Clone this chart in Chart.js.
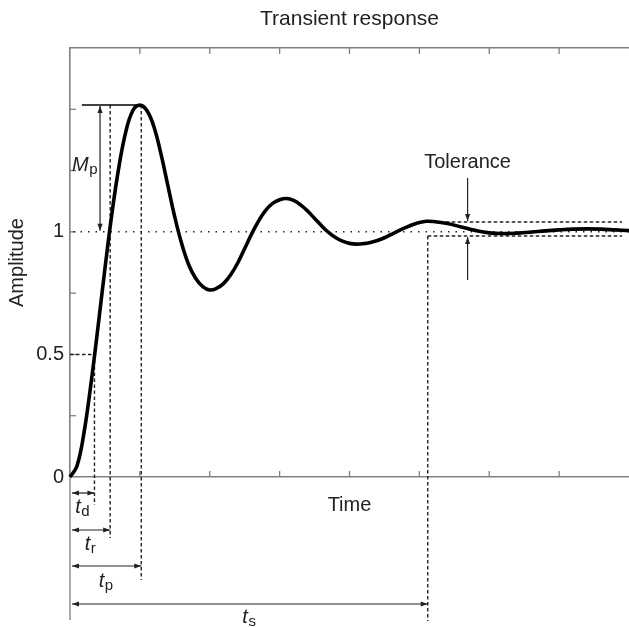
<!DOCTYPE html>
<html>
<head>
<meta charset="utf-8">
<script src="https://cdn.jsdelivr.net/npm/chart.js@4/dist/chart.umd.min.js"></script>
<style>
  html, body { margin: 0; padding: 0; background: #fff; }
  #wrap { width: 629px; height: 627px; }
</style>
</head>
<body>
<div id="wrap"><canvas id="chart" width="629" height="627"></canvas></div>
<script>
// step response
var times = [0, 0.1, 0.2, 0.3, 0.4, 0.5, 0.6, 0.7, 0.8, 0.9,
  1.0, 1.1, 1.2, 1.3, 1.4, 1.5, 1.6, 1.7, 1.8, 1.9,
  2.0, 2.1, 2.2, 2.3, 2.4, 2.5, 2.6, 2.7, 2.8, 2.9,
  3.0, 3.1, 3.2, 3.3, 3.4, 3.5, 3.6, 3.7, 3.8, 3.9,
  4.0, 4.1, 4.2, 4.3, 4.4, 4.5, 4.6, 4.7, 4.8, 4.9,
  5.0, 5.1, 5.2, 5.4, 5.6, 5.8, 6.0, 6.2, 6.4, 6.6,
  6.8, 7.0, 7.2, 7.4, 7.6, 7.8, 8.0];
var amplitude = [0, 0.045, 0.18, 0.38, 0.61, 0.85, 1.075, 1.265, 1.41, 1.495,
  1.517, 1.495, 1.43, 1.32, 1.19, 1.06, 0.95, 0.865, 0.81, 0.777,
  0.763, 0.77, 0.79, 0.825, 0.873, 0.932, 0.992, 1.045, 1.088, 1.116,
  1.131, 1.136, 1.128, 1.11, 1.085, 1.055, 1.025, 0.998, 0.977, 0.962,
  0.953, 0.95, 0.952, 0.957, 0.965, 0.976, 0.99, 1.004, 1.017, 1.029,
  1.038, 1.043, 1.042, 1.034, 1.02, 1.006, 0.996, 0.993, 0.995, 0.999,
  1.004, 1.008, 1.011, 1.012, 1.011, 1.008, 1.005];
var yTickLabels = ['0', '0.5', '1'];

// annotated quantities
var tDelay = 0.35, tRise = 0.575, tPeak = 1.02, tSettle = 5.12;
var peakValue = 1.517, finalValue = 1, halfValue = 0.5;
var tolUpper = 1.04, tolLower = 0.983;
var mpArrowTime = 0.43, mpLineStart = 0.17, tolArrowTime = 5.69;

var FONT = '"Liberation Sans", Arial, Helvetica, sans-serif';
var AXIS_GREY = '#808080';
var INK = '#222';

function seg(ctx, x1, y1, x2, y2) {
  ctx.beginPath(); ctx.moveTo(x1, y1); ctx.lineTo(x2, y2); ctx.stroke();
}
function head(ctx, x, y, a) {
  var L = 7, W = 2.6;
  ctx.beginPath();
  ctx.moveTo(x, y);
  ctx.lineTo(x - L * Math.cos(a) + W * Math.sin(a), y - L * Math.sin(a) - W * Math.cos(a));
  ctx.lineTo(x - L * Math.cos(a) - W * Math.sin(a), y - L * Math.sin(a) + W * Math.cos(a));
  ctx.closePath(); ctx.fill();
}
function arrow(ctx, x1, y1, x2, y2, both) {
  var a = Math.atan2(y2 - y1, x2 - x1);
  seg(ctx, x1, y1, x2, y2);
  head(ctx, x2, y2, a);
  if (both) head(ctx, x1, y1, a + Math.PI);
}
// italic symbol + upright subscript
function subLabel(ctx, main, sub, x, baseline, align) {
  ctx.font = 'italic 20px ' + FONT;
  var w1 = ctx.measureText(main).width;
  ctx.font = '15px ' + FONT;
  var w2 = ctx.measureText(sub).width;
  var left = x;
  if (align === 'center') left = x - (w1 + w2) / 2;
  if (align === 'right') left = x - (w1 + w2);
  ctx.textAlign = 'left';
  ctx.textBaseline = 'alphabetic';
  ctx.font = 'italic 20px ' + FONT;
  ctx.fillText(main, left, baseline);
  ctx.font = '15px ' + FONT;
  ctx.fillText(sub, left + w1 + 0.5, baseline + 3);
}

var annotations = {
  id: 'annotations',
  beforeDatasetsDraw: function (chart) {
    var ctx = chart.ctx, xs = chart.scales.x, ys = chart.scales.y, area = chart.chartArea;
    var L = area.left, B = area.bottom;
    ctx.save();

    // inward tick marks
    ctx.strokeStyle = AXIS_GREY; ctx.lineWidth = 1.3; ctx.setLineDash([]);
    xs.ticks.forEach(function (t) {
      if (t.value <= xs.min || t.value >= xs.max) return;
      var px = xs.getPixelForValue(t.value);
      seg(ctx, px, B, px, B - 6);
      seg(ctx, px, area.top, px, area.top + 6);
    });
    ys.ticks.forEach(function (t) {
      if (t.value <= ys.min || t.value >= ys.max) return;
      var py = ys.getPixelForValue(t.value);
      seg(ctx, L, py, L + 6, py);
    });

    // reference line below the axis
    ctx.strokeStyle = '#aaa'; ctx.lineWidth = 2;
    seg(ctx, L, B, L, B + 143);

    var xd = xs.getPixelForValue(tDelay), xr = xs.getPixelForValue(tRise);
    var xp = xs.getPixelForValue(tPeak), xsSet = xs.getPixelForValue(tSettle);
    var yPeak = ys.getPixelForValue(peakValue), yOne = ys.getPixelForValue(finalValue);
    var yHalf = ys.getPixelForValue(halfValue);
    var yTu = ys.getPixelForValue(tolUpper), yTl = ys.getPixelForValue(tolLower);
    var bandEnd = area.right - 7;

    // dotted final value
    ctx.strokeStyle = INK; ctx.lineWidth = 1.5; ctx.setLineDash([1.5, 6]);
    seg(ctx, L + 3, yOne, area.right, yOne);

    // dashed guides
    ctx.lineWidth = 1.4; ctx.setLineDash([3.5, 2.5]);
    seg(ctx, L, yHalf, xd, yHalf);
    seg(ctx, xd, yHalf, xd, B + 28);
    seg(ctx, xr, yPeak, xr, B + 61);
    seg(ctx, xp, yPeak, xp, B + 103);
    seg(ctx, xsSet, yTl, xsSet, B + 144);
    seg(ctx, xsSet, yTl, bandEnd, yTl);
    seg(ctx, xsSet, yTu, bandEnd, yTu);

    // peak line and Mp arrow
    ctx.setLineDash([]);
    ctx.strokeStyle = '#000'; ctx.lineWidth = 1.5;
    seg(ctx, xs.getPixelForValue(mpLineStart), yPeak, xp, yPeak);
    ctx.strokeStyle = INK; ctx.fillStyle = INK; ctx.lineWidth = 1.2;
    var xm = xs.getPixelForValue(mpArrowTime);
    arrow(ctx, xm, yPeak + 1, xm, yOne - 1, true);

    // tolerance arrows
    var xt = xs.getPixelForValue(tolArrowTime);
    arrow(ctx, xt, yTu - 44, xt, yTu - 1, false);
    arrow(ctx, xt, yTl + 44, xt, yTl + 1, false);

    // time arrows under the axis
    var rows = [[xd, 16, 36, 'd'], [xr, 53, 73, 'r'], [xp, 89, 110, 'p'], [xsSet, 127, 146, 's']];
    rows.forEach(function (r) {
      arrow(ctx, L + 2, B + r[1], r[0], B + r[1], true);
      subLabel(ctx, 't', r[3], (L + r[0]) / 2, B + r[2], 'center');
    });

    // text labels
    subLabel(ctx, 'M', 'p', xm - 3, (yPeak + yOne) / 2 + 3, 'right');
    ctx.font = '20px ' + FONT;
    ctx.textAlign = 'center'; ctx.textBaseline = 'alphabetic';
    ctx.fillText('Tolerance', xt, yTu - 54);
    ctx.restore();
  }
};

var points = times.map(function (t, i) { return { x: t, y: amplitude[i] }; });

new Chart(document.getElementById('chart'), {
  type: 'line',
  data: {
    datasets: [{
      data: points,
      borderColor: '#000',
      borderWidth: 3.6,
      pointRadius: 0,
      fill: false,
      tension: 0.4,
      clip: 4
    }]
  },
  options: {
    responsive: false,
    animation: false,
    devicePixelRatio: 1,
    layout: { padding: { left: 0, right: 0, top: 0, bottom: 105 } },
    plugins: { legend: { display: false }, tooltip: { enabled: false } },
    scales: {
      x: {
        type: 'linear', position: 'bottom', min: 0, max: 8,
        ticks: { display: false, stepSize: 1 },
        grid: { display: false, drawTicks: false },
        border: { display: true, color: AXIS_GREY, width: 1.6 },
        title: { display: true, text: 'Time', color: INK, font: { family: FONT, size: 20 }, padding: { top: 0, bottom: 5 } },
        afterFit: function (s) { s.height = 45; }
      },
      x2: {
        axis: 'x', type: 'linear', position: 'top', min: 0, max: 8,
        ticks: { display: false, stepSize: 1 },
        grid: { display: false, drawTicks: false },
        border: { display: true, color: AXIS_GREY, width: 1.6 },
        title: { display: true, text: 'Transient response', color: INK, font: { family: FONT, size: 21 }, padding: { top: 7, bottom: 0 } },
        afterFit: function (s) { s.height = 48; }
      },
      y: {
        type: 'linear', position: 'left', min: 0, max: 1.75,
        ticks: {
          stepSize: 0.25, autoSkip: false, padding: 6, color: INK,
          font: { family: FONT, size: 20 },
          callback: function (v) { var s = String(v); return yTickLabels.indexOf(s) >= 0 ? s : ''; }
        },
        grid: { display: false, drawTicks: false },
        border: { display: true, color: AXIS_GREY, width: 1.6 },
        title: { display: true, text: 'Amplitude', color: INK, font: { family: FONT, size: 20 }, padding: { top: 5, bottom: 0 } },
        afterFit: function (s) { s.width = 70; }
      }
    }
  },
  plugins: [annotations]
});
</script>
</body>
</html>
